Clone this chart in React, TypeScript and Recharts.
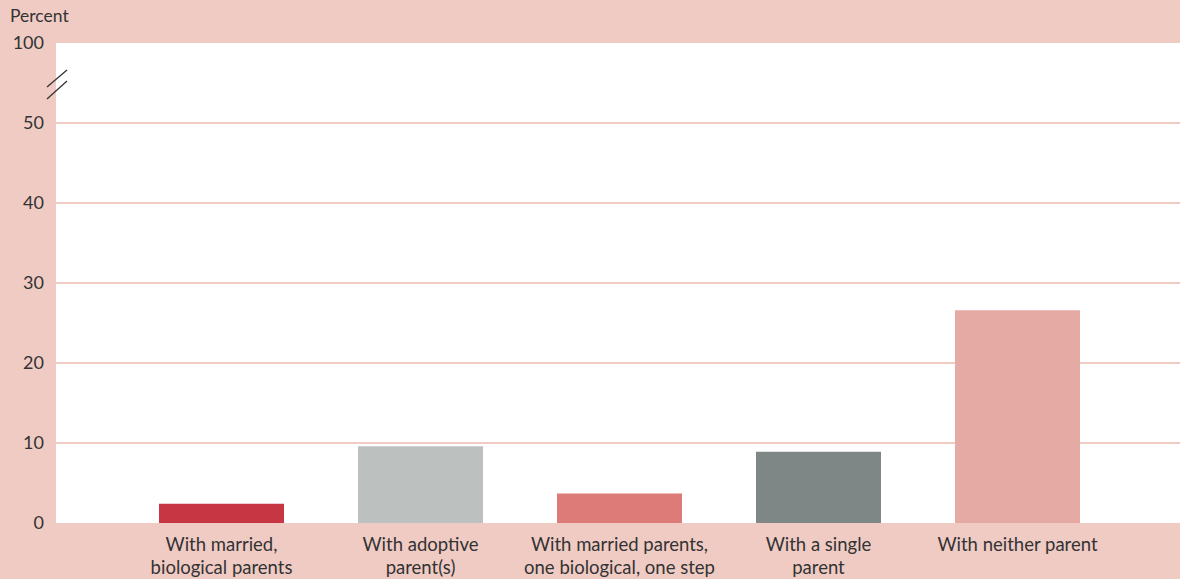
import { BarChart, Bar, XAxis, YAxis, CartesianGrid, Cell } from 'recharts';

// living arrangement categories (line breaks mark the wrapped label lines)
const categories = [
  'With married,\nbiological parents',
  'With adoptive\nparent(s)',
  'With married parents,\none biological, one step',
  'With a single\nparent',
  'With neither parent',
];
const percents = [2.4, 9.6, 3.7, 8.9, 26.6];

// axis break: the top tick stands for 100, drawn where 60 would be
const yTicks = [0, 10, 20, 30, 40, 50, 60];
const yTickLabels = ['0', '10', '20', '30', '40', '50', '100'];
const gridValues = [10, 20, 30, 40, 50];

const barColors = ['#c73643', '#bcc1c0', '#dc7b77', '#7f8786', '#e5aaa3'];

const BG = '#f0cbc4';
const INK = '#333333';
const FONT = 'Lato, "Open Sans", sans-serif';

const data = categories.map((name, i) => ({ name, value: percents[i] }));

const CategoryTick = (props: any) => {
  const { x, y, payload } = props;
  const lines = String(payload.value).split('\n');
  return (
    <text x={x} y={y} textAnchor="middle" fill={INK} fontFamily={FONT} fontSize={18.5}>
      {lines.map((line: string, i: number) => (
        <tspan key={i} x={x} dy={i === 0 ? 26 : 23}>
          {line}
        </tspan>
      ))}
    </text>
  );
};

export default function App() {
  return (
    <div style={{ position: 'fixed', left: 0, top: 0, width: 1180, height: 579, background: BG }}>
      <BarChart
        width={1180}
        height={579}
        data={data}
        margin={{ top: 43, right: 0, bottom: 26, left: 0 }}
      >
        <CartesianGrid
          vertical={false}
          horizontalValues={gridValues}
          stroke={BG}
          strokeWidth={2}
          fill="#ffffff"
          fillOpacity={1}
        />
        <XAxis
          dataKey="name"
          height={30}
          axisLine={false}
          tickLine={false}
          tickSize={0}
          interval={0}
          padding={{ left: 66, right: 63 }}
          tick={<CategoryTick />}
        />
        <YAxis
          width={56}
          domain={[0, 60]}
          ticks={yTicks}
          axisLine={false}
          tickLine={false}
          tickSize={0}
          tickMargin={12}
          tickFormatter={(v: number) => yTickLabels[yTicks.indexOf(v)]}
          tick={{ fill: INK, fontFamily: FONT, fontSize: 18 }}
        />
        <Bar dataKey="value" barSize={125} isAnimationActive={false}>
          {data.map((d, i) => (
            <Cell key={d.name} fill={barColors[i]} />
          ))}
        </Bar>
      </BarChart>
      <svg
        width={1180}
        height={579}
        style={{ position: 'absolute', left: 0, top: 0, pointerEvents: 'none' }}
      >
        <text x={10} y={22} fill={INK} fontFamily={FONT} fontSize={17.5}>
          Percent
        </text>
        {/* axis break marks */}
        <line x1={47} y1={87} x2={67} y2={70} stroke={INK} strokeWidth={1.3} />
        <line x1={47} y1={99} x2={67} y2={81} stroke={INK} strokeWidth={1.3} />
      </svg>
    </div>
  );
}
